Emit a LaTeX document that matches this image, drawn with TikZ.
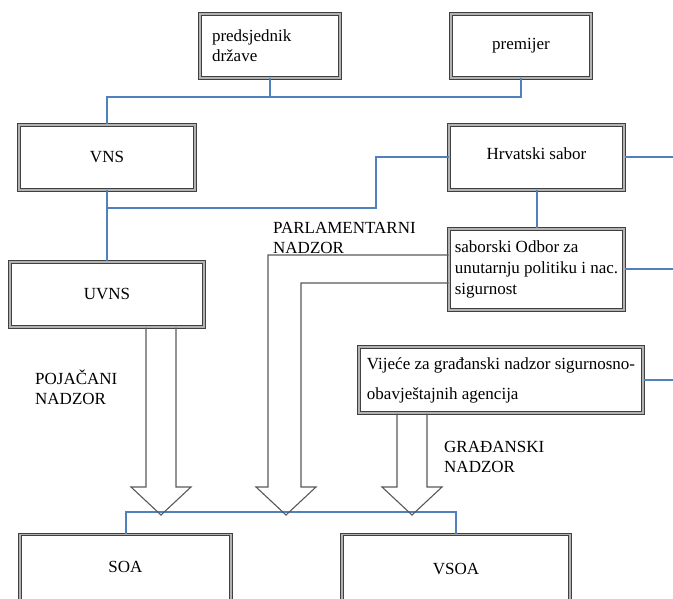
\documentclass[tikz,border=0pt]{standalone}
\usepackage{fontspec}
\setmainfont{Liberation Serif}
\definecolor{lnblue}{HTML}{4F81BD}
\begin{document}
\begin{tikzpicture}[x=1pt,y=-1pt,
  box/.style={draw=black!75, double=black!30, line width=1pt, double distance=1.2pt, inner sep=0pt, font=\fontsize{17}{20}\selectfont},
  conn/.style={draw=lnblue, line width=2pt},
  harrow/.style={draw=black!65, line width=1.1pt, line join=miter},
  lbl/.style={inner sep=0pt, align=left, anchor=west, font=\fontsize{17}{20}\selectfont}]
\useasboundingbox (0,0) rectangle (673,599);

\node[box, minimum width=140pt, minimum height=64pt, text width=116pt, align=left] (pd) at (270,46) {predsjednik\\države};
\node[box, minimum width=140pt, minimum height=64pt] (prem) at (521,46) {premijer};
\node[box, minimum width=176pt, minimum height=65pt] (vns) at (107,157.5) {VNS};
\node[box, minimum width=175pt, minimum height=65pt, text depth=8pt] (hs) at (536.5,157.5) {Hrvatski sabor};
\node[box, minimum width=175pt, minimum height=81pt, align=left, font=\fontsize{17}{21}\selectfont] (odbor) at (536.5,269.5) {saborski Odbor za\\unutarnju politiku i nac.\\sigurnost};
\node[box, minimum width=194pt, minimum height=65pt] (uvns) at (107,294.5) {UVNS};
\node[box, minimum width=284pt, minimum height=66pt, align=left, font=\fontsize{17}{30}\selectfont] (vij) at (501,380) {Vijeće za građanski nadzor sigurnosno-\\obavještajnih agencija};
\node[box, minimum width=211pt, minimum height=68pt, text depth=4pt] (soa) at (125.5,568.5) {SOA};
\node[box, minimum width=228pt, minimum height=68pt] (vsoa) at (456,568.5) {VSOA};

\coordinate (j1) at (107,97);
\draw[conn] (vns.north) -- (j1) -| (prem.south);
\draw[conn] (pd.south) -- (pd.south |- j1);
\coordinate (j2) at (376,208);
\draw[conn] (hs.west) -| (j2) -- (j2 -| vns.south);
\draw[conn] (vns.south) -- (uvns.north);
\coordinate (redge) at (673,0);
\draw[conn] (hs.east) -- (hs.east -| redge);
\draw[conn] (hs.south) -- (odbor.north);
\draw[conn] (odbor.east) -- (odbor.east -| redge);
\draw[conn] (vij.east) -- (vij.east -| redge);
\coordinate (j3) at (0,512);
\draw[conn] (soa.north) -- (soa.north |- j3) -- (vsoa.north |- j3) -- (vsoa.north);

\coordinate (t1) at (161,515);
\draw[harrow] (146,0 |- uvns.south) -- (146,487) -- (131,487) -- (t1) -- (191,487) -- (176,487) -- (176,0 |- uvns.south);
\coordinate (t2) at (286,515);
\draw[harrow] (odbor.west |- 0,255) -- (268,255) -- (268,487) -- (256,487) -- (t2) -- (316,487) -- (301,487) -- (301,283) -- (odbor.west |- 0,283);
\coordinate (t3) at (412,515);
\draw[harrow] (397,0 |- vij.south) -- (397,487) -- (382,487) -- (t3) -- (442,487) -- (427,487) -- (427,0 |- vij.south);

\node[lbl] (parl) at (273,238) {PARLAMENTARNI\\NADZOR};
\node[lbl] (poj) at (35,387) {POJAČANI\\NADZOR};
\node[lbl] (grad) at (444,457) {GRAĐANSKI\\NADZOR};
\end{tikzpicture}
\end{document}
